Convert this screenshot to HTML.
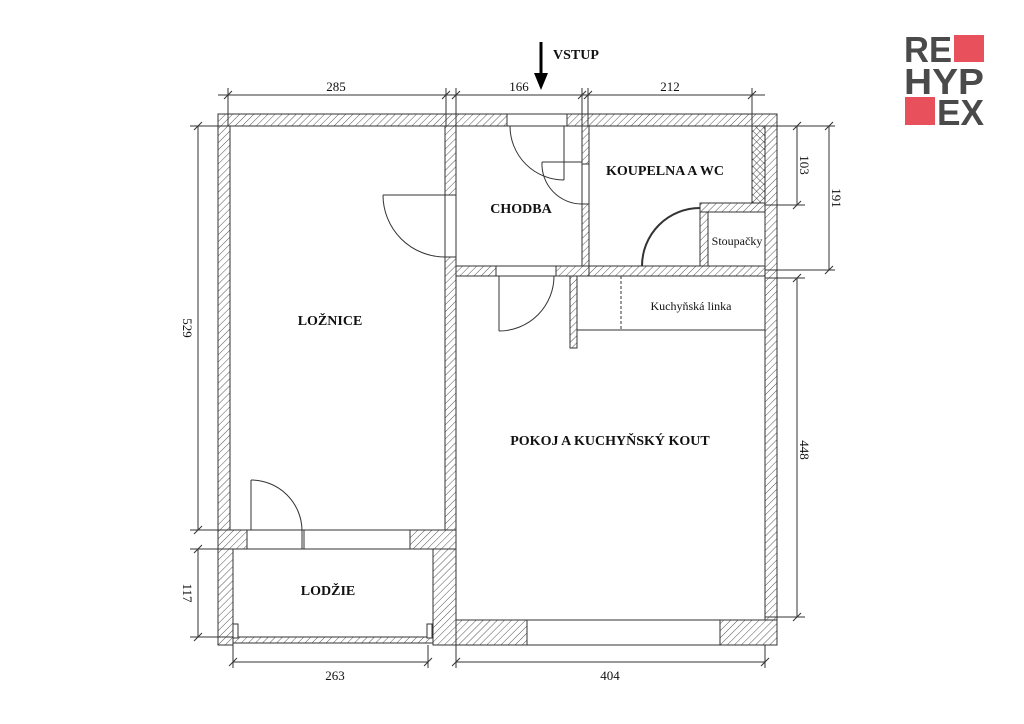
<!DOCTYPE html>
<html><head><meta charset="utf-8"><style>
html,body{margin:0;padding:0;background:#fff;width:1024px;height:724px;overflow:hidden}
svg{display:block}
text{font-family:"Liberation Serif","DejaVu Serif",serif;fill:#111}
.b{font-weight:bold;font-size:14px}
.d{font-size:13px}
text.logo{font-family:"Liberation Sans","DejaVu Sans",sans-serif;font-weight:bold;font-size:36px;fill:#4a4a4a}
</style></head><body>
<svg width="1024" height="724" viewBox="0 0 1024 724" xmlns="http://www.w3.org/2000/svg">
<defs>
<pattern id="h" width="5" height="5" patternUnits="userSpaceOnUse" patternTransform="rotate(45)">
<rect width="5" height="5" fill="#fff"/><line x1="0" y1="0" x2="0" y2="5" stroke="#555" stroke-width="1"/></pattern>
<pattern id="x" width="5" height="5" patternUnits="userSpaceOnUse" patternTransform="rotate(45)">
<rect width="5" height="5" fill="#fff"/><line x1="0" y1="0" x2="0" y2="5" stroke="#444" stroke-width="1"/><line x1="0" y1="0" x2="5" y2="0" stroke="#444" stroke-width="1"/></pattern>
</defs>
<g stroke="#333" stroke-width="1">
<rect x="218" y="114" width="289" height="12" fill="url(#h)"/>
<rect x="567" y="114" width="210" height="12" fill="url(#h)"/>
<rect x="507" y="114" width="60" height="12" fill="#fff"/>
<rect x="218" y="126" width="12" height="404" fill="url(#h)"/>
<rect x="445" y="126" width="11" height="69" fill="url(#h)"/>
<rect x="445" y="195" width="11" height="62" fill="#fff"/>
<rect x="445" y="257" width="11" height="273" fill="url(#h)"/>
<rect x="445" y="530" width="11" height="90" fill="url(#h)"/>
<rect x="218" y="530" width="29" height="19" fill="url(#h)"/>
<rect x="410" y="530" width="46" height="19" fill="url(#h)"/>
<rect x="247" y="530" width="163" height="19" fill="#fff"/>
<line x1="304" y1="530" x2="304" y2="549"/>
<line x1="302" y1="530" x2="302" y2="549"/>
<rect x="218" y="549" width="15" height="96" fill="url(#h)"/>
<rect x="433" y="549" width="23" height="96" fill="url(#h)"/>
<rect x="233" y="637" width="200" height="6" fill="url(#h)"/>
<rect x="233" y="624" width="5" height="14" fill="#fff"/>
<rect x="427" y="624" width="5" height="14" fill="#fff"/>
<rect x="456" y="620" width="71" height="25" fill="url(#h)"/>
<rect x="527" y="620" width="193" height="25" fill="#fff"/>
<rect x="720" y="620" width="57" height="25" fill="url(#h)"/>
<rect x="765" y="126" width="12" height="494" fill="url(#h)"/>
<rect x="752" y="126" width="13" height="79" fill="url(#x)"/>
<rect x="582" y="126" width="7" height="38" fill="url(#h)"/>
<rect x="582" y="164" width="7" height="40" fill="#fff"/>
<rect x="582" y="204" width="7" height="62" fill="url(#h)"/>
<rect x="456" y="266" width="40" height="10" fill="url(#h)"/>
<rect x="496" y="266" width="60" height="10" fill="#fff"/>
<rect x="556" y="266" width="34" height="10" fill="url(#h)"/>
<rect x="589" y="266" width="176" height="10" fill="url(#h)"/>
<rect x="700" y="203" width="65" height="9" fill="url(#h)"/>
<rect x="700" y="212" width="8" height="54" fill="url(#h)"/>
<rect x="708" y="212" width="57" height="54" fill="#fff"/>
<rect x="570" y="276" width="7" height="72" fill="url(#h)"/>
<rect x="577" y="276" width="188" height="54" fill="#fff"/>
<line x1="621" y1="276" x2="621" y2="330" stroke-dasharray="3,2"/>
</g>
<g stroke="#333" stroke-width="1" fill="none">
<line x1="564" y1="126" x2="564" y2="180"/>
<path d="M510 126 A54 54 0 0 0 564 180"/>
<line x1="542" y1="162" x2="582" y2="162"/>
<path d="M542 162 A40 40 0 0 0 582 204"/>
<line x1="383" y1="195" x2="445" y2="195"/>
<path d="M383 195 A62 62 0 0 0 445 257"/>
<line x1="499" y1="276" x2="499" y2="331"/>
<path d="M499 331 A55 55 0 0 0 554 276"/>
<path d="M642 266 A58 58 0 0 1 700 208" stroke-width="2"/>
<line x1="251" y1="530" x2="251" y2="480"/>
<path d="M251 480 A51 51 0 0 1 302 530"/>
</g>
<g stroke="#333" stroke-width="1" fill="none">
<line x1="218" y1="95" x2="765" y2="95"/>
<line x1="228" y1="88" x2="228" y2="126"/><line x1="446" y1="88" x2="446" y2="126"/>
<line x1="456" y1="88" x2="456" y2="126"/><line x1="582" y1="88" x2="582" y2="126"/>
<line x1="588" y1="88" x2="588" y2="126"/><line x1="752" y1="88" x2="752" y2="126"/>
<path d="M224 99l8-8M442 99l8-8M452 99l8-8M578 99l8-8M584 99l8-8M748 99l8-8"/>
<line x1="198" y1="126" x2="198" y2="530"/>
<line x1="190" y1="126" x2="230" y2="126"/><line x1="190" y1="530" x2="230" y2="530"/>
<line x1="198" y1="549" x2="198" y2="637"/>
<line x1="190" y1="549" x2="233" y2="549"/><line x1="190" y1="637" x2="233" y2="637"/>
<path d="M194 130l8-8M194 534l8-8M194 553l8-8M194 641l8-8"/>
<line x1="233" y1="662" x2="428" y2="662"/>
<line x1="233" y1="645" x2="233" y2="668"/><line x1="428" y1="645" x2="428" y2="668"/>
<line x1="456" y1="662" x2="765" y2="662"/>
<line x1="456" y1="645" x2="456" y2="668"/><line x1="765" y1="645" x2="765" y2="668"/>
<path d="M229 666l8-8M424 666l8-8M452 666l8-8M761 666l8-8"/>
<line x1="797" y1="126" x2="797" y2="205"/>
<line x1="829" y1="126" x2="829" y2="270"/>
<line x1="797" y1="278" x2="797" y2="617"/>
<line x1="765" y1="126" x2="835" y2="126"/><line x1="765" y1="205" x2="805" y2="205"/>
<line x1="765" y1="270" x2="835" y2="270"/><line x1="765" y1="278" x2="805" y2="278"/>
<line x1="765" y1="617" x2="805" y2="617"/>
<path d="M793 130l8-8M793 209l8-8M825 130l8-8M825 274l8-8M793 282l8-8M793 621l8-8"/>
</g>
<line x1="541" y1="42" x2="541" y2="75" stroke="#000" stroke-width="3"/>
<polygon points="534,73 548,73 541,90" fill="#000"/>
<text x="553" y="59" class="b">VSTUP</text>
<text x="336" y="91" class="d" text-anchor="middle">285</text>
<text x="519" y="91" class="d" text-anchor="middle">166</text>
<text x="670" y="91" class="d" text-anchor="middle">212</text>
<text x="335" y="680" class="d" text-anchor="middle">263</text>
<text x="610" y="680" class="d" text-anchor="middle">404</text>
<text transform="translate(183,328) rotate(90)" class="d" text-anchor="middle">529</text>
<text transform="translate(183,593) rotate(90)" class="d" text-anchor="middle">117</text>
<text transform="translate(800,165) rotate(90)" class="d" text-anchor="middle">103</text>
<text transform="translate(832,198) rotate(90)" class="d" text-anchor="middle">191</text>
<text transform="translate(800,450) rotate(90)" class="d" text-anchor="middle">448</text>
<text x="330" y="325" class="b" text-anchor="middle">LOŽNICE</text>
<text x="521" y="213" class="b" text-anchor="middle">CHODBA</text>
<text x="665" y="175" class="b" text-anchor="middle">KOUPELNA A WC</text>
<text x="737" y="245" style="font-size:12px" text-anchor="middle">Stoupačky</text>
<text x="691" y="310" style="font-size:12px" text-anchor="middle">Kuchyňská linka</text>
<text x="610" y="445" class="b" text-anchor="middle">POKOJ A KUCHYŇSKÝ KOUT</text>
<text x="328" y="595" class="b" text-anchor="middle">LODŽIE</text>
<rect x="954" y="35" width="30" height="27" fill="#e8505b"/>
<rect x="905" y="97" width="30" height="28" fill="#e8505b"/>
<text class="logo" x="904" y="62" textLength="48" lengthAdjust="spacingAndGlyphs">RE</text>
<text class="logo" x="904" y="94" textLength="80" lengthAdjust="spacingAndGlyphs">HYP</text>
<text class="logo" x="937" y="125" textLength="47" lengthAdjust="spacingAndGlyphs">EX</text>
</svg>
</body></html>
